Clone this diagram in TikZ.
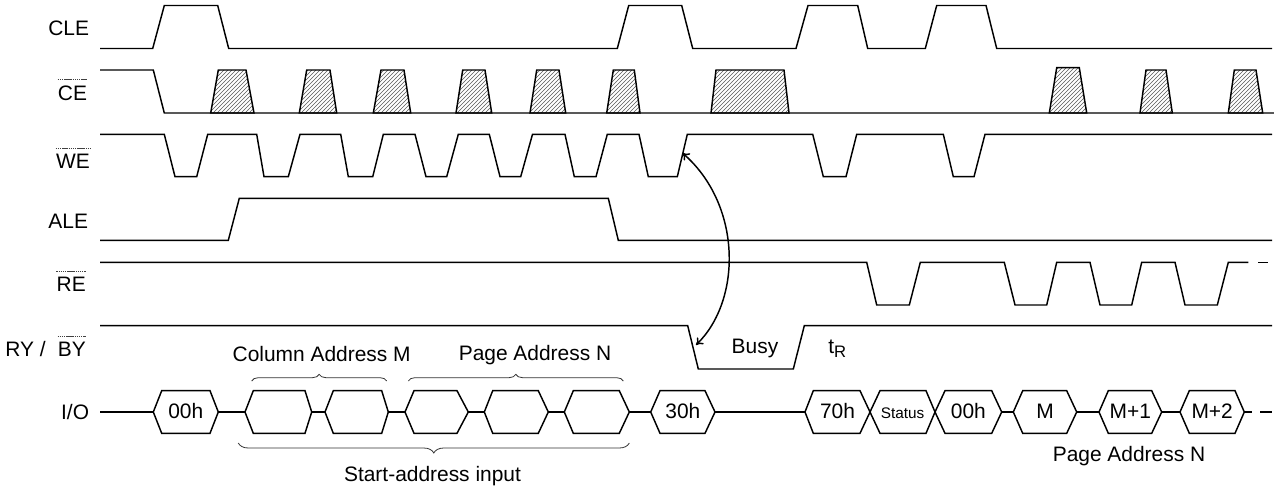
\documentclass[tikz,border=0pt]{standalone}
\usepackage{fontspec}
\setmainfont{Liberation Sans}
\usetikzlibrary{arrows.meta,patterns,decorations.pathreplacing}
\begin{document}
\begin{tikzpicture}[x=0.75pt,y=-0.75pt,
  sig/.style={line width=1.1pt},
  txt/.style={inner sep=0pt, font=\fontsize{15.7}{18}\selectfont},
  lbl/.style={txt, anchor=base east},
  ovl/.style={line width=0.45pt, black!75, dash pattern=on 1.1pt off 0.5pt},
  hatch/.style={line width=1.1pt, pattern=north east lines, pattern color=black!65},
  brc/.style={decorate, decoration={brace, amplitude=#1}, line width=0.6pt, black!80},
  tip/.style={{To[length=5pt,width=7pt]}-{To[length=5pt,width=7pt]}, line width=1.1pt}]
\useasboundingbox (0,0) rectangle (1274,490);

% signal names
\node[lbl] (cle) at (89.3,35) {CLE};
\node[lbl] (ce) at (87.3,100) {CE};
\node[lbl] (we) at (90,168.5) {WE};
\node[lbl] (ale) at (88.3,228.3) {ALE};
\node[lbl] (re) at (86,291.7) {RE};
\node[lbl] (by) at (86,356.7) {BY};
\node[lbl] (ry) at ([xshift=-8.7pt]by.base west) {RY /};
\node[lbl] (io) at (89.3,419.3) {I/O};
\foreach \n in {ce,we,re,by}
  \draw[ovl] ([yshift=4.3pt]\n.north west) -- ([yshift=4.3pt]\n.north east);

% CLE
\draw[sig] (100,48.5) -- (152.7,48.5) -- (164.3,5.5) -- (217.7,5.5) -- (228.7,48.5)
  -- (617.3,48.5) -- (628.7,5.5) -- (681.7,5.5) -- (692.7,48.5)
  -- (796,48.5) -- (808,5.5) -- (857.7,5.5) -- (867.7,48.5)
  -- (925.3,48.5) -- (936.7,5.5) -- (986,5.5) -- (996.7,48.5) -- (1272,48.5);

% CE
\foreach \p/\q/\r/\s in {210.7/218.3/246/254, 299.3/306.7/330/336.7, 373.3/381/404/410.7,
  456/462.7/485/491.7, 530/536.7/559/565.7, 606.7/613.3/634.3/640, 711/716/784/789,
  1140/1146/1166/1172.3, 1228.3/1234.3/1256/1262.7}
  \draw[hatch] (\p,113) -- (\q,70) -- (\r,70) -- (\s,113) -- cycle;
\draw[hatch] (1049.3,113) -- (1056.7,67.7) -- (1079.3,67.7) -- (1086.7,113) -- cycle;
\draw[sig] (100,70) -- (153.3,70) -- (164.3,113) -- (1274,113);

% WE
\draw[sig] (100,134.3) -- (164.3,134.3) -- (175,176.7) -- (196.7,176.7) -- (207.7,134.3)
  -- (256.7,134.3) -- (264,176.7) -- (288.3,176.7) -- (300,134.3)
  -- (340.7,134.3) -- (348.3,176.7) -- (372.7,176.7) -- (383.3,134.3)
  -- (415,134.3) -- (426,176.7) -- (446.7,176.7) -- (458.3,134.3)
  -- (489.3,134.3) -- (500,176.7) -- (520.7,176.7) -- (532.5,134.3)
  -- (565,134.3) -- (574.3,176.7) -- (596,176.7) -- (607.3,134.3)
  -- (639,134.3) -- (648.3,176.7) -- (677.3,176.7) -- (687.3,134.3)
  -- (812.7,134.3) -- (823.3,176.7) -- (846,176.7) -- (856.7,134.3)
  -- (943.3,134.3) -- (953.3,176.7) -- (974,176.7) -- (985,134.3) -- (1272,134.3);

% ALE
\draw[sig] (100,240.3) -- (228.3,240.3) -- (239.3,198.3) -- (608.3,198.3) -- (618.3,240.3) -- (1272,240.3);

% RE
\draw[sig] (100,262.3) -- (866.7,262.3) -- (876.7,305) -- (909.3,305) -- (920.3,262.3)
  -- (1004.3,262.3) -- (1015,305) -- (1046.7,305) -- (1056.7,262.3)
  -- (1090,262.3) -- (1100,305) -- (1131.7,305) -- (1141.7,262.3)
  -- (1175,262.3) -- (1185,305) -- (1217.3,305) -- (1228.3,262.3) -- (1248.3,262.3);
\draw[sig] (1258,262.3) -- (1267.5,262.3);

% RY/BY
\draw[sig] (100,325.7) -- (687.7,325.7) -- (698.3,369) -- (793.3,369) -- (804.3,325.7) -- (1272,325.7);
\node[txt, anchor=base] (busy) at (755,353.3) {Busy};
\node[txt, anchor=base west] (tr) at (828,353.3) {t\raisebox{-0.22em}{\fontsize{12.5}{12}\selectfont R}};

% arrow WE -> RY/BY
\coordinate (a1) at (682.5,153);
\coordinate (a2) at (696,345);
\draw[tip] (a1) .. controls (742,205) and (742,300) .. (a2);

% I/O bus
\foreach \u/\v in {100/153.3, 218.3/245, 311.7/325, 388.3/405, 468.3/484.3, 548.3/564.3,
  629.3/650.7, 715/805, 1001.7/1013.3, 1076.7/1099, 1161.7/1180, 1244.3/1252, 1260/1272}
  \draw[sig] (\u,412) -- (\v,412);
\foreach \n/\l/\a/\b/\r/\t in {h1/153.3/161.7/210/218.3/00h, h2/245/253.3/305/311.7/,
  h3/325/333.3/381.7/388.3/, h4/405/414/457/468.3/, h5/484.3/492.7/538.3/548.3/,
  h6/564.3/573.3/619.3/629.3/, h7/650.7/660/705/715/30h, h8/805/813.3/860/870/70h,
  h9/870/880/926/935/{\fontsize{11.5}{12}\selectfont Status}, h10/935/945/991.7/1001.7/00h,
  h11/1013.3/1022.7/1066.7/1076.7/M, h12/1099/1108.3/1151.7/1161.7/M+1,
  h13/1180/1189.3/1235/1244.3/M+2}
{
  \draw[sig, line join=miter] (\l,412) -- (\a,390.7) -- (\b,390.7) -- (\r,412) -- (\b,433.3) -- (\a,433.3) -- cycle;
  \node[txt, anchor=base] (\n) at ({(\l+\r)/2},418.5) {\t};
}

% braces and group labels
\draw[brc=5pt] (251.7,381) -- (386.7,381);
\draw[brc=5pt] (408.3,381) -- (623.3,381);
\draw[brc=7.5pt] (629.3,443) -- (238.3,443);
\node[txt, anchor=base] (colm) at (321.7,361.7) {Column Address M};
\node[txt, anchor=base] (pagen) at (535,360.7) {Page Address N};
\node[txt, anchor=base] (start) at (432.5,481.7) {Start-address input};
\node[txt, anchor=base] (pagen2) at (1129,461.7) {Page Address N};
\end{tikzpicture}
\end{document}
